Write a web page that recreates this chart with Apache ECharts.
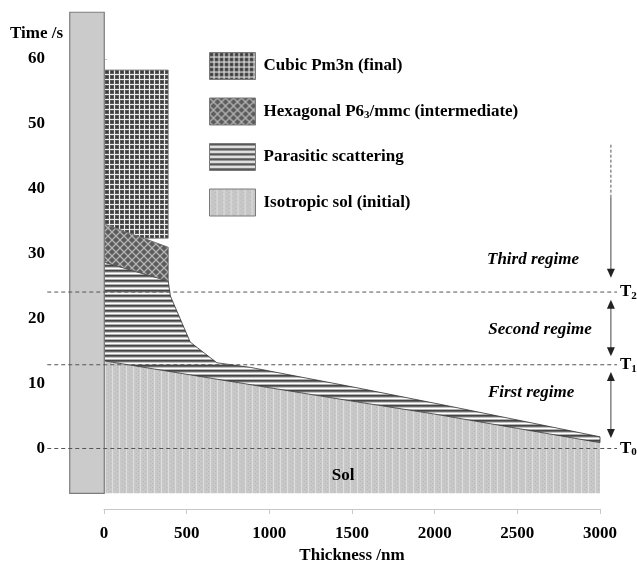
<!DOCTYPE html>
<html>
<head>
<meta charset="utf-8">
<script src="https://cdn.jsdelivr.net/npm/echarts@6/dist/echarts.min.js"></script>
<style>
  html, body { margin: 0; padding: 0; background: #fff; }
  #chart { width: 637px; height: 570px; }
</style>
</head>
<body>
<div id="chart"></div>
<script>
// region boundaries, [thickness nm, time s]
const solTop = [[0, 13.5], [700, 10.6], [1500, 7.3], [2000, 5.3], [2500, 3.1], [3000, 0.9]]
const solBottom = [[0, -6.9], [3000, -6.9]]
const parasiticTop = [[0, 28.7], [387, 25.8], [400, 23.5], [520, 16.4], [560, 15.6], [682, 13.2], [883, 12.5], [1500, 9.5], [2093, 6.5], [3000, 1.8]]
const hexTop = [[0, 34.6], [387, 31.0]]
const hexBottom = [[0, 28.7], [387, 25.8]]
const cubicTop = [[0, 58.3], [387, 58.3]]
const cubicBottom = [[0, 34.6], [236, 32.4], [387, 32.4]]
const substrateX = [-209, 0]
const substrateY = [-6.9, 67.2]

const xTicks = [0, 500, 1000, 1500, 2000, 2500, 3000]
const legendNames = ['Cubic Pm3n (final)', 'Hexagonal P63/mmc (intermediate)', 'Parasitic scattering', 'Isotropic sol (initial)']

// regime annotations
const regimeTimes = [0, 12.9, 24.1]          // T0, T1, T2
const regimeLabels = ['First regime', 'Second regime', 'Third regime']
const regimeLabelPos = [[2583, 8.6], [2637, 18.3], [2595, 29.1]]
const arrowX = 3066
const arrowGuide = [46.8, 38.8]
const arrowSpans = [[11.8, 1.6, true, true], [22.9, 14.2, true, true], [38.8, 26.3, false, true]]
const solLabelPos = [1446, -4.2]

const SERIF = '"Liberation Serif", "Times New Roman", serif'

function makePattern(w, h, draw) {
  const c = document.createElement('canvas')
  c.width = w
  c.height = h
  draw(c.getContext('2d'))
  return { image: c, repeat: 'repeat' }
}

const cubicFill = makePattern(5, 5, (ctx) => {
  ctx.fillStyle = '#ececec'
  ctx.fillRect(0, 0, 5, 5)
  ctx.fillStyle = '#5a5a5a'
  ctx.fillRect(0, 0, 4, 4)
  ctx.fillStyle = '#3a3a3a'
  ctx.fillRect(1, 1, 2, 2)
})

const hexFill = makePattern(8, 8, (ctx) => {
  ctx.fillStyle = '#5c5c5c'
  ctx.fillRect(0, 0, 8, 8)
  ctx.strokeStyle = '#b4b4b4'
  ctx.lineWidth = 1.3
  ctx.beginPath()
  ctx.moveTo(-1, -1); ctx.lineTo(9, 9)
  ctx.moveTo(-1, 9); ctx.lineTo(9, -1)
  ctx.stroke()
})

const stripeFill = makePattern(4, 5, (ctx) => {
  const rows = ['#454545', '#6a6a6a', '#c4c4c4', '#ffffff', '#b0b0b0']
  rows.forEach((c, i) => { ctx.fillStyle = c; ctx.fillRect(0, i, 4, 1) })
})

const solFill = makePattern(7, 4, (ctx) => {
  ctx.fillStyle = '#c8c8c8'
  ctx.fillRect(0, 0, 7, 4)
  ctx.fillStyle = '#dedede'
  ctx.fillRect(0, 0, 1, 4)
  ctx.fillStyle = '#b6b6b6'
  ctx.fillRect(3, 1, 1, 1)
  ctx.fillRect(5, 3, 1, 1)
})

function region(name, upper, lower, fill, stroke) {
  return {
    type: 'custom',
    name,
    xAxisIndex: 0,
    yAxisIndex: 0,
    data: [[0, 0]],
    itemStyle: { color: fill, borderColor: '#7a7a7a', borderWidth: 1 },
    renderItem: (params, api) => {
      const pts = upper.concat(lower.slice().reverse()).map((p) => api.coord(p))
      return {
        type: 'polygon',
        shape: { points: pts },
        style: { fill, stroke, lineWidth: 0.8 },
      }
    },
  }
}

function arrowHead(x, y, down) {
  const d = down ? -1 : 1
  return {
    type: 'polygon',
    shape: { points: [[x - 4, y + d * 9], [x + 4, y + d * 9], [x, y]] },
    style: { fill: '#222' },
  }
}

function renderNotes(params, api) {
  const children = []
  const txt = { fill: '#000', fontFamily: SERIF, fontWeight: 'bold', fontSize: 17 }

  regimeTimes.forEach((t, i) => {
    const a = api.coord([-345, t])
    const b = api.coord([3103, t])
    children.push({
      type: 'line',
      shape: { x1: a[0], y1: a[1], x2: b[0], y2: b[1] },
      style: { stroke: '#555', lineWidth: 1, lineDash: [4, 3] },
    })
    const p = api.coord([3121, t])
    children.push({
      type: 'text', x: p[0], y: p[1],
      style: {
        text: '{t|T}{s|' + i + '}', align: 'left', verticalAlign: 'middle',
        rich: {
          t: { ...txt, fontSize: 17 },
          s: { ...txt, fontSize: 11, verticalAlign: 'bottom', padding: [8, 0, 0, 0] },
        },
      },
    })
  })

  regimeLabels.forEach((label, i) => {
    const p = api.coord(regimeLabelPos[i])
    children.push({
      type: 'text', x: p[0], y: p[1],
      style: { ...txt, text: label, fontStyle: 'italic', align: 'center', verticalAlign: 'middle' },
    })
  })

  const g0 = api.coord([arrowX, arrowGuide[0]])
  const g1 = api.coord([arrowX, arrowGuide[1]])
  children.push({
    type: 'line',
    shape: { x1: g0[0], y1: g0[1], x2: g1[0], y2: g1[1] },
    style: { stroke: '#555', lineWidth: 1, lineDash: [3, 2] },
  })
  arrowSpans.forEach(([top, bottom, headTop, headBottom]) => {
    const a = api.coord([arrowX, top])
    const b = api.coord([arrowX, bottom])
    children.push({
      type: 'line',
      shape: { x1: a[0], y1: headTop ? a[1] + 8 : a[1], x2: b[0], y2: headBottom ? b[1] - 8 : b[1] },
      style: { stroke: '#444', lineWidth: 1 },
    })
    if (headTop) children.push(arrowHead(a[0], a[1], false))
    if (headBottom) children.push(arrowHead(b[0], b[1], true))
  })

  const s = api.coord(solLabelPos)
  children.push({
    type: 'text', x: s[0], y: s[1],
    style: { ...txt, text: 'Sol', align: 'center', verticalAlign: 'middle' },
  })

  return { type: 'group', children }
}

const chart = echarts.init(document.getElementById('chart'))

chart.setOption({
  animation: false,
  graphic: [
    {
      type: 'text', left: 10, top: 25, z: 100,
      style: { text: 'Time /s', fill: '#000', fontFamily: SERIF, fontWeight: 'bold', fontSize: 17 },
    },
  ],
  legend: {
    data: legendNames,
    orient: 'vertical',
    left: 204,
    top: 47,
    icon: 'rect',
    itemWidth: 46,
    itemHeight: 27,
    itemGap: 17.5,
    selectedMode: false,
    itemStyle: { borderColor: '#7a7a7a', borderWidth: 1 },
    formatter: (name) => name === legendNames[1] ? 'Hexagonal P6{sub|3}/mmc (intermediate)' : name,
    textStyle: {
      color: '#000', fontFamily: SERIF, fontWeight: 'bold', fontSize: 17, padding: [0, 0, 0, 3],
      rich: {
        sub: { color: '#000', fontFamily: SERIF, fontWeight: 'bold', fontSize: 11, verticalAlign: 'bottom', padding: [7, 0, 0, 0] },
      },
    },
  },
  grid: [
    { left: 58, right: 37, top: 59, bottom: 121.5 },
    { left: 104, right: 37, top: 508, height: 1 },
  ],
  xAxis: [
    { gridIndex: 0, type: 'value', min: -280, max: 3000, show: false },
    {
      gridIndex: 1,
      type: 'value',
      min: 0,
      max: 3000,
      interval: 500,
      name: 'Thickness /nm',
      nameLocation: 'middle',
      nameGap: 38,
      nameTextStyle: { color: '#000', fontFamily: SERIF, fontWeight: 'bold', fontSize: 17 },
      axisLine: { lineStyle: { color: '#c8c8c8' } },
      axisTick: { inside: false, length: 5, lineStyle: { color: '#c8c8c8' } },
      axisLabel: { margin: 16, color: '#000', fontFamily: SERIF, fontWeight: 'bold', fontSize: 17,
        formatter: (v) => xTicks.includes(v) ? String(v) : '' },
      splitLine: { show: false },
    },
  ],
  yAxis: [
    {
      gridIndex: 0,
      type: 'value',
      min: 0,
      max: 60,
      interval: 10,
      axisLine: { show: true, lineStyle: { color: '#c8c8c8' } },
      axisTick: { show: true, inside: true, length: 3, lineStyle: { color: '#c8c8c8' } },
      axisLabel: { margin: 13, color: '#000', fontFamily: SERIF, fontWeight: 'bold', fontSize: 17 },
      splitLine: { show: false },
    },
    { gridIndex: 1, type: 'value', show: false },
  ],
  series: [
    region(legendNames[3], solTop, solBottom, solFill, null),
    region(legendNames[2], parasiticTop, solTop, stripeFill, '#333'),
    region(legendNames[1], hexTop, hexBottom, hexFill, '#555'),
    region(legendNames[0], cubicTop, cubicBottom, cubicFill, '#777'),
    {
      type: 'custom',
      name: 'substrate',
      data: [[0, 0]],
      renderItem: (params, api) => {
        const a = api.coord([substrateX[0], substrateY[1]])
        const b = api.coord([substrateX[1], substrateY[0]])
        return {
          type: 'rect',
          shape: { x: a[0], y: a[1], width: b[0] - a[0], height: b[1] - a[1] },
          style: { fill: '#cbcbcb', stroke: '#7c7c7c', lineWidth: 1.2 },
        }
      },
    },
    { type: 'custom', name: 'notes', data: [[0, 0]], renderItem: renderNotes },
  ],
})
</script>
</body>
</html>
